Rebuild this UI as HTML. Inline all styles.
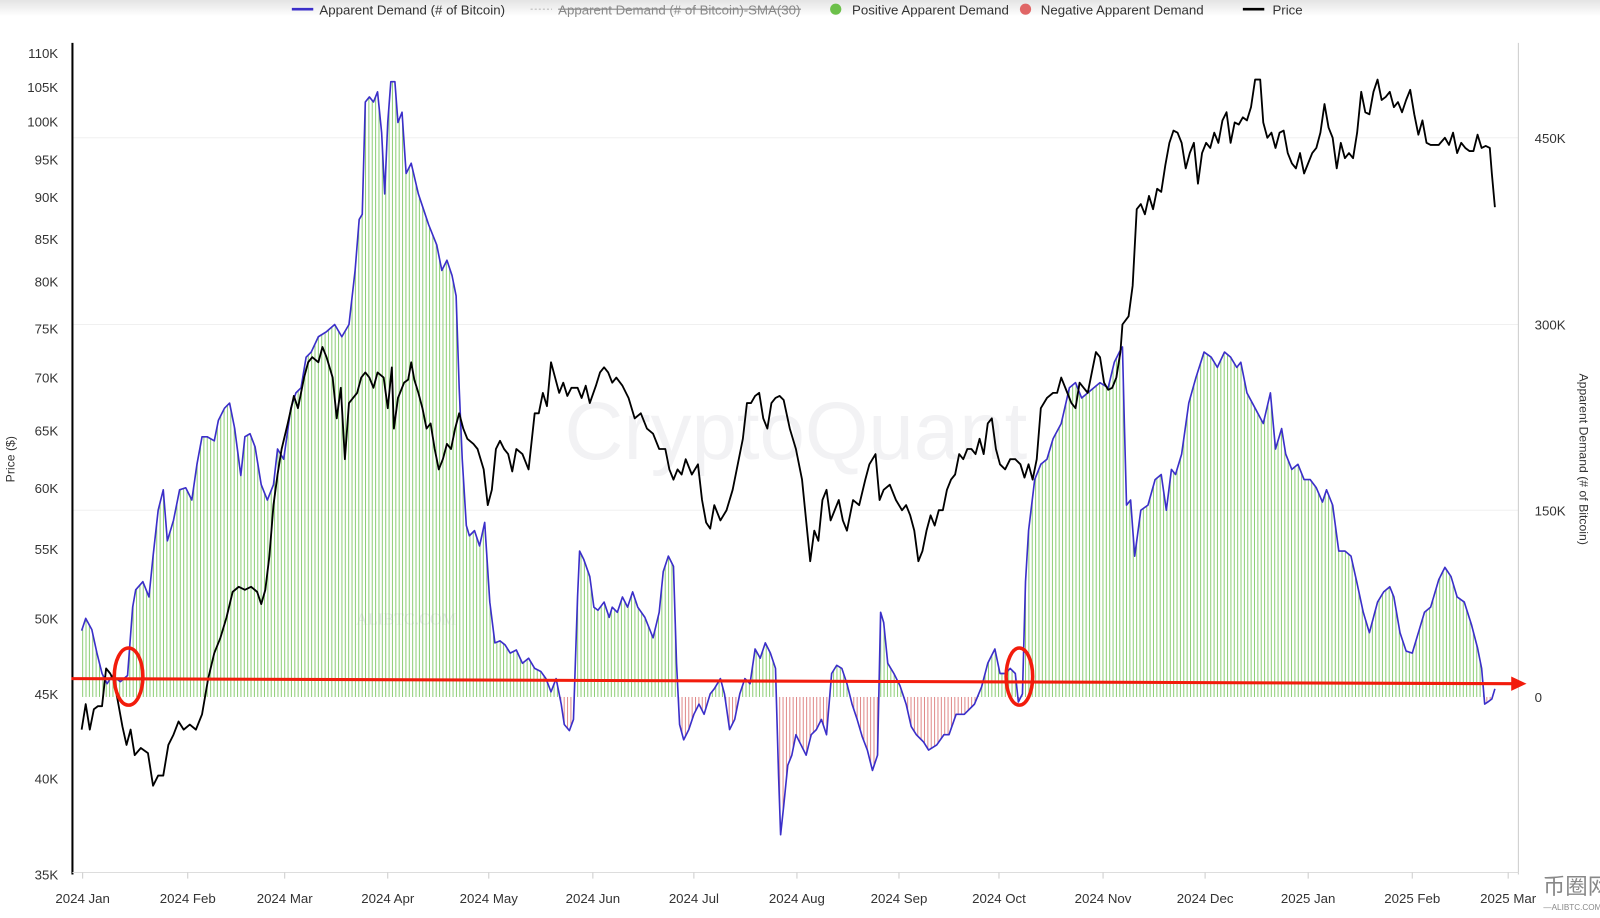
<!DOCTYPE html>
<html><head><meta charset="utf-8">
<style>
body{margin:0;background:#fff;width:1600px;height:913px;overflow:hidden;font-family:"Liberation Sans",sans-serif}
</style></head><body>
<svg id="s" width="1600" height="913" viewBox="0 0 1568 894.7" preserveAspectRatio="none" xmlns="http://www.w3.org/2000/svg" font-family="Liberation Sans, sans-serif">
<defs><linearGradient id="tg" x1="0" y1="0" x2="0" y2="1"><stop offset="0" stop-color="#e4e4e4"/><stop offset="1" stop-color="#fff"/></linearGradient></defs>
<rect x="0" y="0" width="1568" height="16" fill="url(#tg)"/>
<g font-size="13" fill="#333">
<line x1="286" y1="9" x2="307" y2="9" stroke="#3b2fc9" stroke-width="2.5"/><text x="313" y="14">Apparent Demand (# of Bitcoin)</text>
<line x1="520" y1="9" x2="541" y2="9" stroke="#bbb" stroke-width="1" stroke-dasharray="2,2"/><text x="547" y="14" fill="#888">Apparent Demand (# of Bitcoin)-SMA(30)</text>
<line x1="547" y1="9" x2="785" y2="9" stroke="#888" stroke-width="1"/>
<circle cx="819" cy="9" r="5.5" fill="#6cc04a"/><text x="835" y="14">Positive Apparent Demand</text>
<circle cx="1005" cy="9" r="5.5" fill="#e06666"/><text x="1020" y="14">Negative Apparent Demand</text>
<line x1="1218" y1="9" x2="1239" y2="9" stroke="#000" stroke-width="2.5"/><text x="1247" y="14">Price</text>
</g>
<g stroke="#f0f0f0" stroke-width="1">
<line x1="72" y1="135" x2="1488" y2="135"/><line x1="72" y1="318" x2="1488" y2="318"/><line x1="72" y1="500" x2="1488" y2="500"/>
</g>
<text x="780" y="450" font-size="80" fill="#f2f2f4" text-anchor="middle">CryptoQuant</text>
<text x="398" y="612" font-size="16" fill="#e8e8ee" font-family="Liberation Serif, serif" text-anchor="middle">ALIBTC.COM</text>
<g id="bars"></g>
<path id="dem" fill="none" stroke="#3b2fc9" stroke-width="1.6" stroke-linejoin="round"/>
<path id="pr" fill="none" stroke="#000" stroke-width="1.8" stroke-linejoin="round"/>
<line x1="71" y1="42" x2="71" y2="857" stroke="#000" stroke-width="2"/>
<line x1="1488" y1="42" x2="1488" y2="857" stroke="#ccc" stroke-width="1"/>
<line x1="71" y1="855" x2="1488" y2="855" stroke="#ddd" stroke-width="1"/>
<g font-size="13" fill="#333" text-anchor="end" id="ly"></g>
<g font-size="13" fill="#333" id="ry"></g>
<g font-size="13" fill="#333" text-anchor="middle" id="xl"></g>
<text transform="translate(14,450) rotate(-90)" font-size="12" fill="#333" text-anchor="middle">Price ($)</text>
<text transform="translate(1548,450) rotate(90)" font-size="12" fill="#333" text-anchor="middle">Apparent Demand (# of Bitcoin)</text>
<line x1="70" y1="665" x2="1482" y2="670" stroke="#f21c0c" stroke-width="3"/>
<polygon points="1496,670 1481,663 1481,677" fill="#f21c0c"/>
<ellipse cx="126" cy="663" rx="14" ry="28" fill="none" stroke="#f21c0c" stroke-width="3.5"/>
<ellipse cx="999" cy="663" rx="13" ry="28" fill="none" stroke="#f21c0c" stroke-width="3.5"/>
<text x="1545" y="876" font-size="22" fill="#888" text-anchor="middle" font-family="Noto Sans CJK SC, sans-serif">币圈网</text>
<text x="1545" y="892" font-size="8" fill="#888" text-anchor="middle">—ALIBTC.COM—</text>
</svg>
<script>
const D=[80,618,84,606,90,617,95,640,100,660,105,670,110,662,118,668,125,662,130,595,133,578,140,570,146,585,150,545,155,500,160,480,164,530,170,510,176,480,182,478,188,490,193,455,198,428,203,428,210,432,214,412,220,400,225,395,230,420,236,466,240,428,245,425,250,438,256,475,262,490,268,475,272,440,278,450,285,400,290,385,295,380,300,350,305,345,312,330,320,325,328,318,335,330,342,318,348,265,352,215,355,210,358,100,362,95,366,100,370,90,374,130,377,190,380,120,383,80,387,80,390,120,394,110,398,170,403,160,410,190,415,205,420,220,428,240,433,265,438,255,443,270,447,290,450,380,453,450,457,515,460,525,465,520,470,535,475,512,480,590,485,630,490,628,495,632,500,640,506,637,512,650,518,645,524,655,530,658,535,665,540,678,545,665,550,690,553,710,558,716,562,705,566,585,568,540,572,548,578,565,582,595,586,598,592,590,597,605,600,595,605,600,610,585,615,595,620,580,625,595,632,605,640,625,646,600,650,560,655,545,660,555,663,650,666,710,670,725,675,715,680,700,685,690,690,700,696,680,700,675,706,665,710,680,715,715,720,705,725,680,730,665,735,670,740,636,745,645,750,630,755,640,760,655,763,760,765,818,768,790,772,750,776,740,780,720,785,730,790,740,795,720,800,715,805,705,810,720,815,660,820,652,825,655,830,670,835,690,840,705,845,722,850,735,855,755,860,740,863,600,866,610,870,650,876,660,882,672,888,690,893,712,898,720,905,727,910,735,918,730,925,720,930,720,937,700,945,700,955,690,962,673,968,650,975,636,980,660,985,660,990,655,995,660,998,688,1002,680,1005,570,1008,520,1014,470,1020,455,1026,450,1032,430,1040,415,1048,380,1054,375,1060,390,1066,385,1072,380,1078,375,1086,380,1092,355,1097,345,1100,340,1102,420,1104,495,1108,490,1112,545,1118,500,1125,495,1132,470,1138,465,1143,500,1148,460,1152,465,1158,445,1165,395,1172,370,1180,345,1187,350,1193,360,1200,345,1206,350,1212,360,1216,355,1222,385,1230,400,1238,415,1245,385,1250,440,1256,420,1260,445,1266,460,1272,455,1278,470,1284,470,1290,478,1296,492,1300,480,1306,495,1312,540,1318,540,1324,545,1330,572,1336,600,1342,620,1346,605,1350,590,1356,580,1362,575,1366,585,1372,620,1378,638,1384,640,1390,620,1396,600,1402,595,1410,568,1416,556,1422,565,1428,585,1435,590,1442,612,1448,635,1452,655,1455,690,1458,688,1462,685,1465,675];
const P=[80,715,84,690,88,715,92,695,96,692,100,692,104,655,108,660,112,668,116,690,120,712,124,730,128,715,132,740,138,733,145,738,150,770,155,760,160,760,165,730,170,720,175,707,180,715,186,710,192,715,198,700,204,665,210,640,216,625,222,605,228,580,234,575,240,578,246,575,252,580,256,592,260,578,264,545,268,495,272,465,276,440,282,415,288,388,292,400,298,370,302,355,306,350,312,355,316,340,320,350,326,370,330,410,334,380,338,450,342,395,346,390,350,385,354,370,358,365,362,370,366,380,370,365,376,370,380,400,384,360,386,420,390,390,396,375,400,372,403,355,406,372,410,385,414,400,418,420,422,415,426,440,430,460,434,450,438,435,442,440,446,420,450,405,454,420,458,430,464,435,468,440,474,460,478,495,482,480,486,440,490,432,494,440,498,445,502,462,506,440,512,445,518,460,524,405,528,405,532,385,536,398,540,355,544,370,548,385,552,375,556,388,560,380,566,380,570,390,574,378,578,395,584,378,588,365,592,360,596,365,600,375,604,370,610,378,616,390,622,410,628,405,634,420,640,425,646,440,652,440,656,460,660,470,664,460,668,465,672,450,678,465,684,455,688,490,692,512,696,518,700,495,706,510,712,500,718,480,722,460,728,430,732,395,736,395,740,388,744,385,748,410,752,420,756,395,760,390,764,388,768,392,774,420,780,440,786,470,790,510,794,550,798,520,802,530,806,490,810,480,814,510,818,500,822,490,826,510,830,520,836,490,842,495,848,470,852,455,858,445,862,490,866,480,872,475,878,490,884,500,888,495,892,505,896,520,900,550,904,540,908,520,912,505,916,515,920,500,924,500,928,480,932,470,936,465,940,445,944,450,948,440,952,440,956,445,960,430,964,445,968,415,972,410,976,440,980,455,985,460,990,450,995,450,1000,455,1004,468,1008,455,1012,470,1016,450,1020,400,1026,390,1032,385,1036,385,1040,370,1046,385,1050,395,1054,400,1058,375,1062,380,1066,385,1070,365,1074,345,1078,350,1082,375,1086,382,1090,380,1094,370,1098,345,1100,318,1106,310,1110,280,1114,205,1118,200,1122,210,1126,192,1130,205,1134,185,1138,188,1142,162,1146,140,1150,128,1154,130,1158,140,1162,165,1166,150,1170,140,1174,180,1178,150,1182,140,1186,145,1190,130,1194,140,1198,118,1202,110,1206,140,1210,120,1214,122,1218,115,1222,118,1226,105,1230,78,1235,78,1238,120,1242,135,1246,130,1250,145,1254,130,1258,128,1262,150,1266,160,1270,165,1274,150,1278,170,1282,160,1286,150,1290,145,1294,130,1298,102,1302,125,1306,135,1310,165,1314,140,1318,155,1322,150,1326,155,1330,130,1334,90,1338,110,1342,112,1346,90,1350,78,1354,98,1358,95,1362,90,1366,105,1370,100,1374,110,1378,98,1382,88,1386,112,1390,132,1394,118,1398,140,1402,142,1410,142,1416,135,1420,142,1424,130,1428,150,1432,140,1436,145,1440,148,1444,148,1448,132,1452,145,1456,143,1460,145,1462,170,1465,203];
function path(a){let s='M'+a[0]+','+a[1];for(let i=2;i<a.length;i+=2)s+='L'+a[i]+','+a[i+1];return s}
document.getElementById('dem').setAttribute('d',path(D));
document.getElementById('pr').setAttribute('d',path(P));
function interp(a,x){for(let i=2;i<a.length;i+=2){if(a[i]>=x){const x0=a[i-2],y0=a[i-1],x1=a[i],y1=a[i+1];return y0+(y1-y0)*(x-x0)/(x1-x0)}}return a[a.length-1]}
const Z=683;let b='';
for(let x=81;x<=1463;x+=3.3){const y=interp(D,x);const c=y<Z?'#8fcf78':'#e08a8a';b+=`<line x1="${x.toFixed(1)}" y1="${Z}" x2="${x.toFixed(1)}" y2="${y.toFixed(1)}" stroke="${c}" stroke-width="1"/>`}
document.getElementById('bars').innerHTML=b;
const L=[['110K',52],['105K',85],['100K',119],['95K',156],['90K',193],['85K',234],['80K',276],['75K',322],['70K',370],['65K',422],['60K',478],['55K',538],['50K',606],['45K',680],['40K',763],['35K',857]];
document.getElementById('ly').innerHTML=L.map(l=>`<text x="57" y="${l[1]+5}">${l[0]}</text>`).join('');
document.getElementById('ry').innerHTML=[['450K',135],['300K',318],['150K',500],['0',683]].map(l=>`<text x="1504" y="${l[1]+5}">${l[0]}</text>`).join('');
const X=[['2024 Jan',81],['2024 Feb',184],['2024 Mar',279],['2024 Apr',380],['2024 May',479],['2024 Jun',581],['2024 Jul',680],['2024 Aug',781],['2024 Sep',881],['2024 Oct',979],['2024 Nov',1081],['2024 Dec',1181],['2025 Jan',1282],['2025 Feb',1384],['2025 Mar',1478]];
document.getElementById('xl').innerHTML=X.map(l=>`<line x1="${l[1]}" y1="855" x2="${l[1]}" y2="861" stroke="#ccc"/><text x="${l[1]}" y="885">${l[0]}</text>`).join('');
</script>
</body></html>
